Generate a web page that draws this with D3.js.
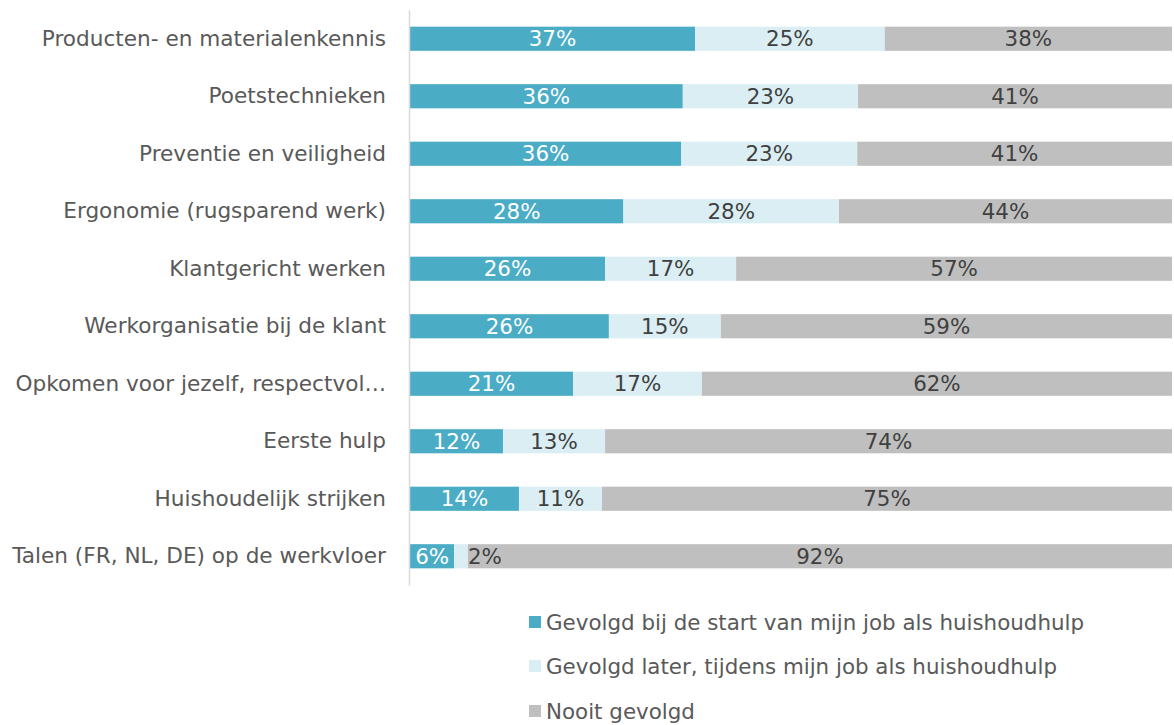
<!DOCTYPE html>
<html>
<head>
<meta charset="utf-8">
<script src="https://cdn.jsdelivr.net/npm/d3@7"></script>
<style>
  html, body { margin: 0; padding: 0; background: #fff; }
  svg { display: block; font-family: "DejaVu Sans", sans-serif; }
</style>
</head>
<body>
<svg id="chart" width="1174" height="725"></svg>
<script>
const categories = [
  "Producten- en materialenkennis",
  "Poetstechnieken",
  "Preventie en veiligheid",
  "Ergonomie (rugsparend werk)",
  "Klantgericht werken",
  "Werkorganisatie bij de klant",
  "Opkomen voor jezelf, respectvol…",
  "Eerste hulp",
  "Huishoudelijk strijken",
  "Talen (FR, NL, DE) op de werkvloer"
];
const seriesNames = [
  "Gevolgd bij de start van mijn job als huishoudhulp",
  "Gevolgd later, tijdens mijn job als huishoudhulp",
  "Nooit gevolgd"
];
const startValues = [37.4, 35.8, 35.6, 28.0, 25.6, 26.1, 21.4, 12.2, 14.3, 5.8];
const laterValues = [24.9, 23.0, 23.1, 28.3, 17.2, 14.7, 16.9, 13.4, 10.9, 1.8];
const neverValues = [37.7, 41.2, 41.3, 43.7, 57.2, 59.2, 61.7, 74.4, 74.8, 92.4];
const colors = ["#4BACC6", "#DAEEF3", "#BFBFBF"];
const labelColors = ["#FFFFFF", "#404040", "#404040"];

const svg = d3.select("#chart");
const x = d3.scaleLinear().domain([0, 100]).range([410, 1172]);
const y = d3.scaleBand().domain(categories).range([10, 585]).paddingInner(0.58).paddingOuter(0.29);

const rows = categories.map((c, i) => ({cat: c, vals: [startValues[i], laterValues[i], neverValues[i]]}));
const segs = [];
rows.forEach(r => {
  let acc = 0;
  r.vals.forEach((v, k) => { segs.push({cat: r.cat, k, x0: acc, x1: acc + v, v}); acc += v; });
});

svg.append("g").selectAll("rect").data(segs).join("rect")
  .attr("x", d => x(d.x0))
  .attr("width", d => x(d.x1) - x(d.x0))
  .attr("y", d => y(d.cat))
  .attr("height", y.bandwidth())
  .attr("fill", d => colors[d.k]);

svg.append("g").selectAll("text").data(segs).join("text")
  .attr("x", d => (x(d.x1) - x(d.x0)) < 30 ? x(d.x1) : (x(d.x0) + x(d.x1)) / 2)
  .attr("text-anchor", d => (x(d.x1) - x(d.x0)) < 30 ? "start" : "middle")
  .attr("y", d => y(d.cat) + y.bandwidth() / 2)
  .attr("dy", "0.36em")
  .attr("font-size", 21.4)
  .attr("fill", d => labelColors[d.k])
  .text(d => Math.round(d.v) + "%");

// category axis
const axis = svg.append("g").attr("transform", "translate(409,0)")
  .call(d3.axisLeft(y).tickSize(0).tickPadding(23));
axis.attr("font-family", null).attr("font-size", null);
axis.select(".domain").attr("stroke", "#D9D9D9").attr("stroke-width", 1.5);
axis.selectAll("text").attr("font-size", 21.6).attr("fill", "#595959");

// legend
const legend = svg.append("g").selectAll("g").data(seriesNames).join("g")
  .attr("transform", (d, i) => `translate(529, ${[622, 666, 711][i]})`);
legend.append("rect").attr("x", 0).attr("y", -6).attr("width", 12).attr("height", 12)
  .attr("fill", (d, i) => colors[i]);
legend.append("text").attr("x", 17).attr("dy", "0.36em").attr("font-size", 21.4)
  .attr("fill", "#595959").text(d => d);
</script>
</body>
</html>
